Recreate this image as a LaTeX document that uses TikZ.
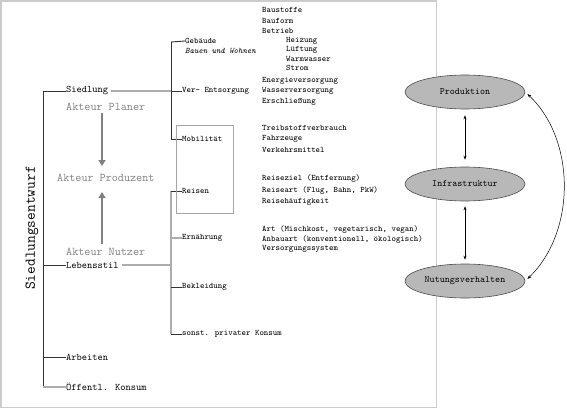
\documentclass[tikz,border=0pt]{standalone}
\usepackage{fontspec}
\usetikzlibrary{arrows.meta,shapes.geometric}
\definecolor{darkline}{gray}{0.2}
\definecolor{lightline}{gray}{0.68}
\definecolor{actgray}{gray}{0.5}
\definecolor{ellfill}{gray}{0.72}
\definecolor{ellborder}{gray}{0.3}
\definecolor{framegray}{gray}{0.8}
\definecolor{boxgray}{gray}{0.65}
\begin{document}
\begin{tikzpicture}[x=1pt,y=-1pt,
  lbl/.style={anchor=west,inner sep=0pt,font=\ttfamily\fontsize{8.4}{9}\selectfont},
  big/.style={anchor=west,inner sep=0pt,font=\ttfamily\fontsize{10}{11}\selectfont},
  akt/.style={anchor=west,inner sep=0pt,text=actgray,font=\ttfamily\fontsize{11.8}{13}\selectfont},
  dk/.style={draw=darkline,line width=0.9pt},
  gr/.style={draw=lightline,line width=2pt},
  ell/.style={ellipse,draw=ellborder,fill=ellfill,line width=0.6pt,minimum width=120pt,minimum height=34pt,inner sep=0pt,font=\ttfamily\fontsize{9.6}{11}\selectfont},
  dbl/.style={draw=black,line width=0.5pt,{Stealth[length=4pt,width=3pt]}-{Stealth[length=4pt,width=3pt]}},
  aktarrow/.style={draw=actgray,line width=1.8pt,-{Triangle[length=6pt,width=7pt]}},
]
\useasboundingbox (0,0) rectangle (567,409);
% frame
\draw[framegray,line width=1.5pt] (1,1) rectangle (436.5,407.5);

% left column
\node[anchor=center,rotate=90,inner sep=0pt,font=\ttfamily\fontsize{15}{17}\selectfont] (title) at (32,228) {Siedlungsentwurf};
\node[big] (sied) at (66,91) {Siedlung};
\node[akt] (planer) at (66,106.5) {Akteur Planer};
\node[akt] (prodz) at (57,178) {Akteur Produzent};
\node[akt] (nutzer) at (66,251.5) {Akteur Nutzer};
\node[big] (leben) at (66,265) {Lebensstil};
\node[big] (arb) at (66,357) {Arbeiten};
\node[big] (oeff) at (66,387) {Öffentl. Konsum};

\coordinate (mtop) at (43,91);
\coordinate (mlev) at (43,265);
\coordinate (marb) at (43,357);
\coordinate (mbot) at (43,387);
\draw[dk] (mtop) -- (mbot);
\draw[dk] (mtop) -- (sied.west);
\draw[dk] (mlev) -- (leben.west);
\draw[dk] (marb) -- (arb.west);
\draw[gr] (mbot) -- (oeff.west);

% actor arrows
\coordinate (pa) at (102,113);
\coordinate (pb) at (102,166);
\coordinate (na) at (102,244);
\coordinate (nb) at (102,192);
\draw[aktarrow] (pa) -- (pb);
\draw[aktarrow] (na) -- (nb);

% middle column
\node[lbl] (geb) at (185,41) {Gebäude};
\node[lbl,font=\ttfamily\itshape\fontsize{8.4}{9}\selectfont] (bauen) at (185,50.5) {Bauen und Wohnen};
\node[lbl] (ver) at (182,91) {Ver- Entsorgung};
\node[lbl] (mob) at (182,139) {Mobilität};
\node[lbl] (reis) at (182,191) {Reisen};
\node[lbl] (ern) at (182,238) {Ernährung};
\node[lbl] (bekl) at (182,287) {Bekleidung};
\node[lbl] (sonst) at (182,334) {sonst. privater Konsum};

\coordinate (ut) at (171,42);
\coordinate (uv) at (171,91);
\coordinate (um) at (171,139);
\coordinate (lr) at (171,191);
\coordinate (ll) at (171,265);
\coordinate (le) at (171,238);
\coordinate (lb) at (171,287);
\coordinate (ls) at (171,334);

\draw[gr] (sied.east) ++(3,0) -- (uv);
\draw[gr] (leben.east) ++(3,0) -- (ll);
\draw[dk] (ut) -- (um);
\draw[dk] (ut) -- (geb.west);
\draw[dk] (uv) -- (ver.west);
\draw[dk] (um) -- (mob.west);
\draw[gr] (lr) -- (ls);
\draw[dk] (lr) -- (reis.west);
\draw[gr] (le) -- (ern.west);
\draw[dk] (lb) -- (bekl.west);
\draw[dk] (ls) -- (sonst.west);

% mobility box
\draw[boxgray,line width=0.8pt] (176,125) rectangle (233,213);

% right text column
\node[lbl] (t1) at (262,10) {Baustoffe};
\node[lbl] (t2) at (262,20.5) {Bauform};
\node[lbl] (t3) at (262,31) {Betrieb};
\node[lbl] (t4) at (286,41) {Heizung};
\node[lbl] (t5) at (286,50) {Lüftung};
\node[lbl] (t6) at (286,59) {Warmwasser};
\node[lbl] (t7) at (286,68) {Strom};
\node[lbl] (t8) at (262,81) {Energieversorgung};
\node[lbl] (t9) at (262,91) {Wasserversorgung};
\node[lbl] (t10) at (262,102) {Erschließung};
\node[lbl] (t11) at (262,128) {Treibstoffverbrauch};
\node[lbl] (t12) at (262,139) {Fahrzeuge};
\node[lbl] (t13) at (262,150) {Verkehrsmittel};
\node[lbl] (t14) at (262,179) {Reiseziel (Entfernung)};
\node[lbl] (t15) at (262,190.5) {Reiseart (Flug, Bahn, PkW)};
\node[lbl] (t16) at (262,202) {Reisehäufigkeit};
\node[lbl] (t17) at (262,230) {Art (Mischkost, vegetarisch, vegan)};
\node[lbl] (t18) at (262,239.5) {Anbauart (konventionell, ökologisch)};
\node[lbl] (t19) at (262,249) {Versorgungssystem};

% ellipses
\node[ell] (prod) at (465,92) {Produktion};
\node[ell] (infra) at (465,184) {Infrastruktur};
\node[ell] (nutz) at (465,281) {Nutungsverhalten};

\draw[dbl,shorten <=6pt,shorten >=7pt] (prod) -- (infra);
\draw[dbl,shorten <=5pt,shorten >=4pt] (infra) -- (nutz);
\draw[dbl,shorten <=3pt,shorten >=3pt] (prod.east) .. controls (576,140) and (576,232) .. (nutz.east);
\end{tikzpicture}
\end{document}
